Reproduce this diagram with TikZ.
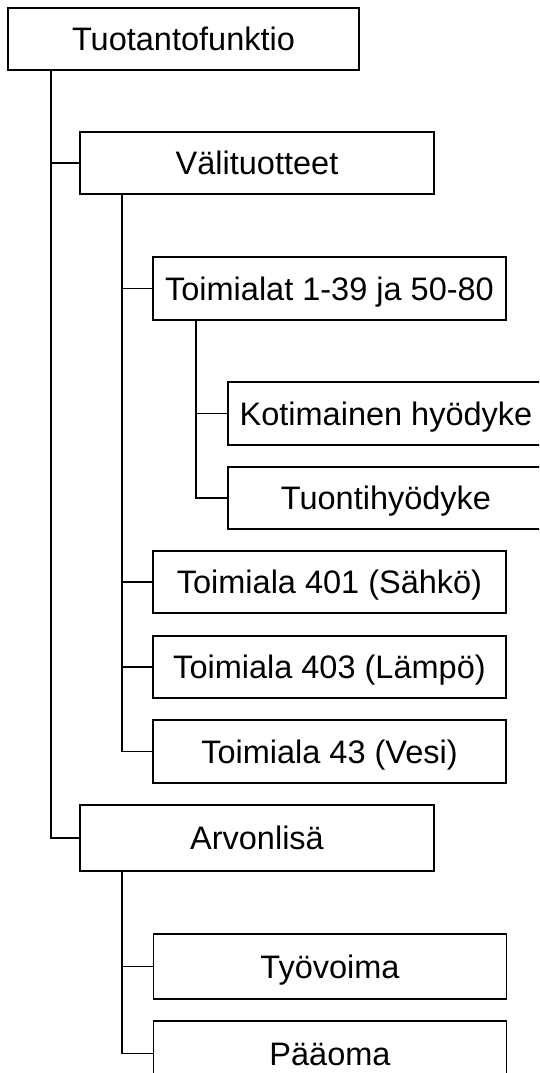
\documentclass[tikz,border=0pt]{standalone}
\usepackage{fontspec}
\setmainfont{Liberation Sans}
\usetikzlibrary{calc}
\tikzset{
  box/.style={draw=black, line width=1.8pt, fill=white, rectangle, inner sep=0pt,
    minimum height=63pt, font=\fontsize{32.5}{38}\selectfont, text height=23pt, text depth=0pt},
  wtop/.style={minimum width=351pt},
  wone/.style={minimum width=354pt},
  wtwo/.style={minimum width=353pt},
  wkot/.style={minimum width=316pt},
  conn/.style={draw=black, line width=1.8pt}
}
\begin{document}
\begin{tikzpicture}[x=1pt,y=-1pt]
\useasboundingbox (0,0) rectangle (539,1073);
\fill[white] (0,0) rectangle (539,1073);
\clip (0,0) rectangle (539,1073);

\node[box,wtop,minimum height=62pt] (root) at (183.5,39) {Tuotantofunktio};
\node[box,wone,minimum height=62pt] (val) at (257,163) {Välituotteet};
\node[box,wtwo] (toim) at (329.5,288.5) {Toimialat 1-39 ja 50-80};
\node[box,wkot] (kot) at (386,413.5) {Kotimainen hyödyke};
\node[box,wkot,minimum height=62pt] (tuo) at (386,498) {Tuontihyödyke};
\node[box,wtwo,minimum height=62pt] (t401) at (329.5,582) {Toimiala 401 (Sähkö)};
\node[box,wtwo,minimum height=62pt] (t403) at (329.5,667) {Toimiala 403 (Lämpö)};
\node[box,wtwo] (t43) at (329.5,751.5) {Toimiala 43 (Vesi)};
\node[box,wone,minimum height=66pt] (arv) at (257,838) {Arvonlisä};
\node[box,wtwo,minimum height=65pt] (tyo) at (330,966.5) {Työvoima};
\node[box,wtwo,minimum height=65pt] (paa) at (330,1053.5) {Pääoma};

\coordinate (c0) at ($(root.south west)+(44,0)$);
\coordinate (c1) at ($(val.south west)+(43,0)$);
\coordinate (c2) at ($(toim.south west)+(44,0)$);
\coordinate (c3) at ($(arv.south west)+(43,0)$);

\draw[conn] (c0) |- (val.west);
\draw[conn] (c0) |- (arv.west);
\draw[conn] (c1) |- (toim.west);
\draw[conn] (c1) |- (t401.west);
\draw[conn] (c1) |- (t403.west);
\draw[conn] (c1) |- (t43.west);
\draw[conn] (c2) |- (kot.west);
\draw[conn] (c2) |- (tuo.west);
\draw[conn] (c3) |- (tyo.west);
\draw[conn] (c3) |- (paa.west);
\end{tikzpicture}
\end{document}
